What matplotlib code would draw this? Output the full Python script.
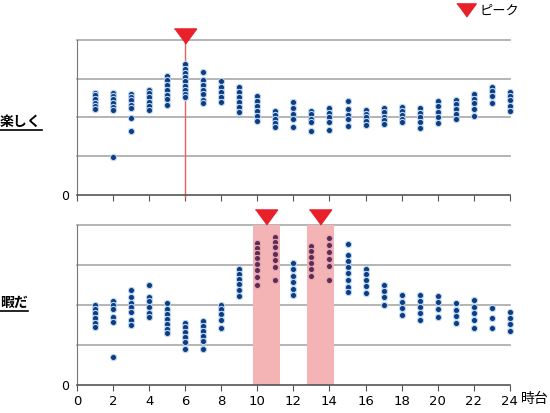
import matplotlib.pyplot as plt
from matplotlib.lines import Line2D

plt.rcParams['font.family'] = ['DejaVu Sans', 'Noto Sans CJK JP']

# 時台 (1〜24時)
hours = list(range(1, 25))

# 楽しく
tanoshiku = [
    [2.63, 2.57, 2.48, 2.37, 2.29, 2.23],
    [2.63, 2.55, 2.47, 2.37, 2.27, 2.20, 0.99],
    [2.61, 2.54, 2.44, 2.31, 2.25, 1.99, 1.64],
    [2.70, 2.62, 2.52, 2.40, 2.29, 2.19],
    [3.07, 2.97, 2.84, 2.71, 2.58, 2.47, 2.31],
    [3.37, 3.26, 3.15, 3.04, 2.93, 2.82, 2.70, 2.60, 2.53],
    [3.17, 2.96, 2.83, 2.70, 2.60, 2.45, 2.37],
    [2.93, 2.80, 2.65, 2.52, 2.40],
    [2.79, 2.65, 2.52, 2.40, 2.28, 2.14],
    [2.55, 2.43, 2.30, 2.17, 2.05, 1.90],
    [2.18, 2.07, 1.95, 1.85, 1.76],
    [2.40, 2.25, 2.10, 1.95, 1.76],
    [2.18, 2.08, 1.97, 1.88, 1.65],
    [2.24, 2.12, 2.00, 1.89, 1.67],
    [2.43, 2.21, 2.07, 1.95, 1.79],
    [2.20, 2.10, 2.00, 1.90, 1.80],
    [2.24, 2.15, 2.02, 1.93, 1.82],
    [2.27, 2.17, 2.06, 1.97, 1.89],
    [2.24, 2.12, 2.00, 1.88, 1.74],
    [2.42, 2.30, 2.15, 2.00, 1.86],
    [2.46, 2.35, 2.22, 2.10, 1.97],
    [2.61, 2.49, 2.37, 2.23, 2.03],
    [2.79, 2.68, 2.55, 2.38],
    [2.67, 2.56, 2.45, 2.29, 2.17],
]

# 暇だ
hima = [
    [2.01, 1.91, 1.80, 1.68, 1.56, 1.45],
    [2.10, 1.99, 1.89, 1.70, 1.58, 0.69],
    [2.37, 2.20, 2.06, 1.95, 1.82, 1.62, 1.51],
    [2.49, 2.20, 2.10, 1.95, 1.80, 1.70],
    [2.06, 1.90, 1.77, 1.65, 1.52, 1.39, 1.29],
    [1.54, 1.44, 1.33, 1.20, 1.08, 0.91],
    [1.60, 1.48, 1.36, 1.22, 1.10, 0.89],
    [2.01, 1.90, 1.78, 1.62, 1.43],
    [2.91, 2.78, 2.65, 2.52, 2.38, 2.23],
    [3.54, 3.42, 3.30, 3.17, 3.02, 2.88, 2.70, 2.51],
    [3.71, 3.58, 3.44, 3.28, 3.13, 2.96, 2.62],
    [3.04, 2.89, 2.73, 2.57, 2.40, 2.25],
    [3.48, 3.35, 3.21, 3.05, 2.90, 2.72],
    [3.67, 3.50, 3.32, 3.15, 2.98, 2.62],
    [3.52, 3.25, 3.10, 2.95, 2.80, 2.62, 2.45, 2.33],
    [2.91, 2.77, 2.62, 2.48, 2.29],
    [2.51, 2.35, 2.20, 2.00],
    [2.25, 2.07, 1.92, 1.75],
    [2.25, 2.10, 1.95, 1.80, 1.62],
    [2.23, 2.07, 1.90, 1.69],
    [2.04, 1.88, 1.72, 1.54],
    [2.12, 1.96, 1.80, 1.62, 1.43],
    [1.93, 1.67, 1.43],
    [1.83, 1.68, 1.52, 1.34],
]

peak_tanoshiku = [6]
peak_hima = [(9.75, 11.25), (12.75, 14.25)]

navy = '#0e3c82'
maroon = '#5e2c52'
edge = '#bcd6f0'
red = '#e8202a'
tri = [(-1, 0.68), (1, 0.68), (0, -0.68)]

fig = plt.figure(figsize=(5.5, 4.13), dpi=100)
ax1 = fig.add_axes([0.14, 0.528, 0.787, 0.375])
ax2 = fig.add_axes([0.14, 0.068, 0.787, 0.387])

def punten(ax, data, spans=()):
    for h, vals in zip(hours, data):
        kleur = navy
        rand = edge
        for a, b in spans:
            if a <= h <= b:
                kleur = maroon
                rand = '#e6a6b4'
        ax.scatter([h] * len(vals), vals, s=20, color=kleur, edgecolor=rand,
                   linewidth=0.8, zorder=3, clip_on=False)

def opmaak(ax, labels):
    ax.set_xlim(0, 24)
    ax.set_ylim(0, 4)
    ax.set_yticks([0, 1, 2, 3, 4])
    ax.set_yticklabels(['0', '', '', '', ''])
    ax.tick_params(axis='y', length=0, labelsize=9, pad=6)
    ax.set_xticks(range(0, 25, 2))
    ax.tick_params(axis='x', length=4, color='#555555', labelsize=9.5)
    if not labels:
        ax.set_xticklabels([])
    for y in [1, 2, 3, 4]:
        ax.axhline(y, color='#a8a8a8', lw=1.2, zorder=1, clip_on=False)
    ax.spines['top'].set_visible(False)
    ax.spines['right'].set_visible(False)
    ax.spines['left'].set_color('#777777')
    ax.spines['bottom'].set_color('#555555')
    ax.spines['bottom'].set_linewidth(1.2)

punten(ax1, tanoshiku)
opmaak(ax1, False)
for p in peak_tanoshiku:
    ax1.plot([p, p], [-0.05, 4], color='#e86060', lw=1, zorder=2, clip_on=False)
    ax1.plot(p, 4.1, marker=tri, color=red, markersize=16, lw=0,
             clip_on=False, zorder=5)

punten(ax2, hima, peak_hima)
opmaak(ax2, True)
for a, b in peak_hima:
    ax2.axvspan(a, b, color='#f4b4b6', lw=0, zorder=2)
    ax2.plot((a + b) / 2, 4.19, marker=tri, color=red, markersize=16, lw=0,
             clip_on=False, zorder=5)

fig.text(0.947, 0.033, '時台', fontsize=10, va='center', ha='left')

# 見出し (太字・下線)
fig.text(0.0, 0.704, '楽しく', fontsize=10, fontweight='bold', va='center')
fig.add_artist(Line2D([0.0, 0.076], [0.686, 0.686], color='black', lw=1.2))
fig.text(0.0, 0.266, '暇だ', fontsize=10, fontweight='bold', va='center')
fig.add_artist(Line2D([0.0, 0.051], [0.247, 0.247], color='black', lw=1.2))

# 凡例
fig.add_artist(Line2D([0.847], [0.976], marker=tri, color=red, markersize=14, lw=0))
fig.text(0.872, 0.972, 'ピーク', fontsize=9.5, va='center')

plt.savefig('out.png', dpi=100)
